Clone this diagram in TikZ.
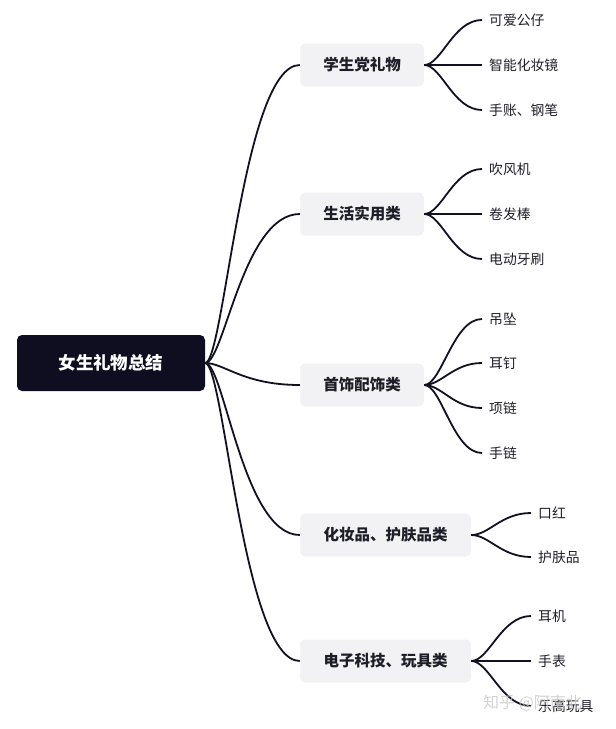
\documentclass[tikz,border=0pt]{standalone}
\usepackage{fontspec}
\newfontfamily\cjk{Noto Sans CJK SC}
\usetikzlibrary{calc}
\definecolor{rootfill}{RGB}{14,14,32}
\definecolor{catfill}{RGB}{242,242,244}
\definecolor{linkcol}{RGB}{17,17,34}
\definecolor{txtcol}{RGB}{30,30,40}
\tikzset{
  rootbox/.style={fill=rootfill, rounded corners=5pt, minimum width=188pt, minimum height=56pt,
    text=white, font=\cjk\bfseries\fontsize{17.5}{20}\selectfont, inner sep=0pt},
  catbox/.style={fill=catfill, rounded corners=5pt, minimum height=43pt,
    text=txtcol, font=\cjk\bfseries\fontsize{15.5}{18}\selectfont, inner sep=0pt},
  leafnode/.style={anchor=west, inner xsep=7pt, inner ysep=0pt, text=txtcol,
    font=\cjk\fontsize{13.8}{16}\selectfont},
  link/.style={draw=linkcol, line width=1.8pt},
  rootlink/.style={to path={.. controls ($(\tikztostart)!0.2!(\tikztotarget|-\tikztostart)$) and ($(\tikztostart|-\tikztotarget)!0.4!(\tikztotarget)$) .. (\tikztotarget)}},
  leaflink/.style={to path={.. controls ($(\tikztostart)!0.3!(\tikztotarget|-\tikztostart)$) and ($(\tikztostart|-\tikztotarget)!0.5!(\tikztotarget)$) .. (\tikztotarget)}},
  wmark/.style={text=gray!45, opacity=0.8, font=\cjk\fontsize{16}{18}\selectfont, inner sep=0pt}
}
\begin{document}
\begin{tikzpicture}[x=1pt,y=-1pt]
\useasboundingbox (0,0) rectangle (616,729);
% root
\node[rootbox] (r) at (111,363) {女生礼物总结};
% categories
\node[catbox, minimum width=124pt] (c1) at (362,65) {学生党礼物};
\node[catbox, minimum width=124pt] (c2) at (362,214) {生活实用类};
\node[catbox, minimum width=124pt] (c3) at (362,385) {首饰配饰类};
\node[catbox, minimum width=171pt] (c4) at (385.5,535) {化妆品、护肤品类};
\node[catbox, minimum width=171pt] (c5) at (385.5,661) {电子科技、玩具类};
% leaves
\node[leafnode] (l11) at (482,20) {可爱公仔};
\node[leafnode] (l12) at (482,65) {智能化妆镜};
\node[leafnode] (l13) at (482,110) {手账、钢笔};
\node[leafnode] (l21) at (482,169) {吹风机};
\node[leafnode] (l22) at (482,214) {卷发棒};
\node[leafnode] (l23) at (482,259) {电动牙刷};
\node[leafnode] (l31) at (482,319) {吊坠};
\node[leafnode] (l32) at (482,363) {耳钉};
\node[leafnode] (l33) at (482,408) {项链};
\node[leafnode] (l34) at (482,453) {手链};
\node[leafnode] (l41) at (531,513) {口红};
\node[leafnode] (l42) at (531,557) {护肤品};
\node[leafnode] (l51) at (531,616) {耳机};
\node[leafnode] (l52) at (531,661) {手表};
\node[leafnode] (l53) at (531,706) {乐高玩具};
% root links
\foreach \c in {c1,c2,c3,c4,c5}
  \draw[link] (r.east) to[rootlink] (\c.west);
% leaf links
\foreach \c/\l in {c1/l11,c1/l12,c1/l13,c2/l21,c2/l22,c2/l23,c3/l31,c3/l32,c3/l33,c3/l34,c4/l41,c4/l42,c5/l51,c5/l52,c5/l53}
  \draw[link] (\c.east) to[leaflink] (\l.west);
% watermark
\node[wmark, anchor=west] (wm) at (483,703) {知乎 @阿南北};
\end{tikzpicture}
\end{document}
